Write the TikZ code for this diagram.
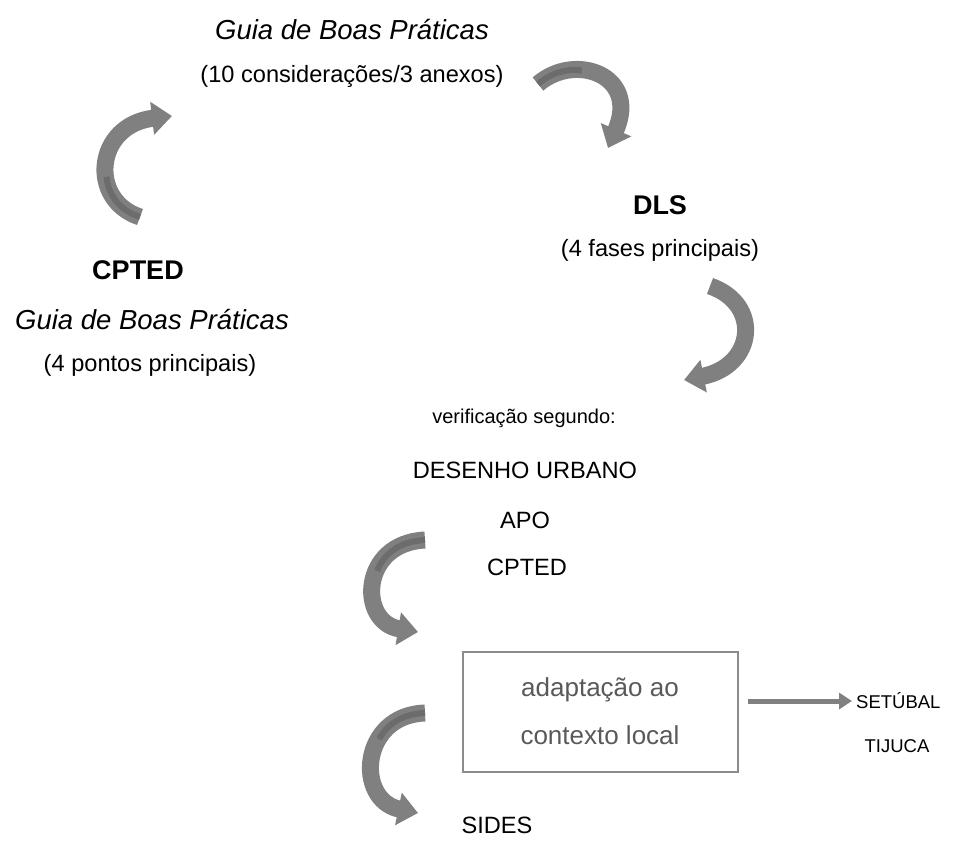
\documentclass[tikz,border=0pt]{standalone}
\usepackage{fontspec}
\setmainfont{Liberation Sans}
\usetikzlibrary{arrows.meta}
\definecolor{arrgray}{RGB}{128,128,128}
\definecolor{arrdark}{RGB}{108,108,108}
\definecolor{boxtext}{RGB}{89,89,89}
\definecolor{boxline}{RGB}{140,140,140}
\tikzset{
  txt/.style={inner sep=0pt, font=\fontsize{23.6}{28}\selectfont},
  bigit/.style={inner sep=0pt, font=\fontsize{27.5}{32}\selectfont\itshape},
  bigbf/.style={inner sep=0pt, font=\fontsize{27}{32}\selectfont\bfseries},
  smalltxt/.style={inner sep=0pt, font=\fontsize{20}{24}\selectfont},
  sidetxt/.style={inner sep=0pt, font=\fontsize{18.5}{22}\selectfont},
  boxtxt/.style={inner sep=0pt, text=boxtext, font=\fontsize{26}{30}\selectfont},
  frame/.style={draw=boxline, line width=1.5pt, minimum width=275pt, minimum height=120pt, inner sep=0pt},
  curvedarrow/.style={draw=arrgray, line width=17pt, -{Triangle[width=32pt,length=20pt]}},
  stripe/.style={draw=arrdark, line width=6pt},
  straightarrow/.style={draw=arrgray, line width=5pt, -{Triangle[width=16pt,length=13pt]}},
}
\begin{document}
\begin{tikzpicture}[x=1pt,y=-1pt]
\useasboundingbox (0,0) rectangle (958,841);
% texts
\node[bigit] (guiaTop) at (352,30) {Guia de Boas Práticas};
\node[txt] (consid) at (352,76) {(10 considerações/3 anexos)};
\node[bigbf] (dls) at (660,205) {DLS};
\node[txt] (fases) at (660,250) {(4 fases principais)};
\node[bigbf] (cpted) at (138,270) {CPTED};
\node[bigit] (guiaLeft) at (152,320) {Guia de Boas Práticas};
\node[txt] (pontos) at (150,365) {(4 pontos principais)};
\node[smalltxt] (verif) at (524,418) {verificação segundo:};
\node[txt] (desenho) at (525,470) {DESENHO URBANO};
\node[txt] (apo) at (525,520) {APO};
\node[txt] (cpted2) at (527,567) {CPTED};
\node[frame] (box) at (600.5,712) {};
\node[boxtxt] (adapt1) at (600,690) {adaptação ao};
\node[boxtxt] (adapt2) at (600,735) {contexto local};
\node[sidetxt, anchor=west] (setubal) at (856,701) {SETÚBAL};
\node[sidetxt] (tijuca) at (897,746) {TIJUCA};
\node[txt] (sides) at (497,825) {SIDES};
% arrow end points
\coordinate (a1s) at (140,217); \coordinate (a1e) at (172,116);
\coordinate (a2s) at (538,84);  \coordinate (a2e) at (608,148);
\coordinate (a3s) at (710,286); \coordinate (a3e) at (684,380);
\coordinate (a4s) at (425,540); \coordinate (a4e) at (418,632);
\coordinate (a5s) at (425,713); \coordinate (a5e) at (418,813);
% curved arrows
\draw[curvedarrow] (a1s) .. controls (88,200) and (95,125) .. (a1e);
\draw[curvedarrow] (a2s) .. controls (575,52) and (640,75) .. (a2e);
\draw[curvedarrow] (a3s) .. controls (762,304) and (755,366) .. (a3e);
\draw[curvedarrow] (a4s) .. controls (360,543) and (358,622) .. (a4e);
\draw[curvedarrow] (a5s) .. controls (360,715) and (355,800) .. (a5e);
% darker inner stripes near the tails
\draw[stripe] (a1s) .. controls (119.2,210.2) and (107.8,194.1) .. (106.6,176.7);
\draw[stripe] (a2s) .. controls (551,72.8) and (567.3,68.3) .. (581.8,70.4);
\draw[stripe] (a4s) .. controls (399,541.2) and (383.1,554.6) .. (377.2,570.8);
\draw[stripe] (a5s) .. controls (402.3,713.7) and (386.9,724.6) .. (379.1,739);
% straight arrow
\path (box.east |- setubal.west) ++(9,0) coordinate (sa);
\draw[straightarrow] (sa) -- ([xshift=-4pt]setubal.west);
\end{tikzpicture}
\end{document}
